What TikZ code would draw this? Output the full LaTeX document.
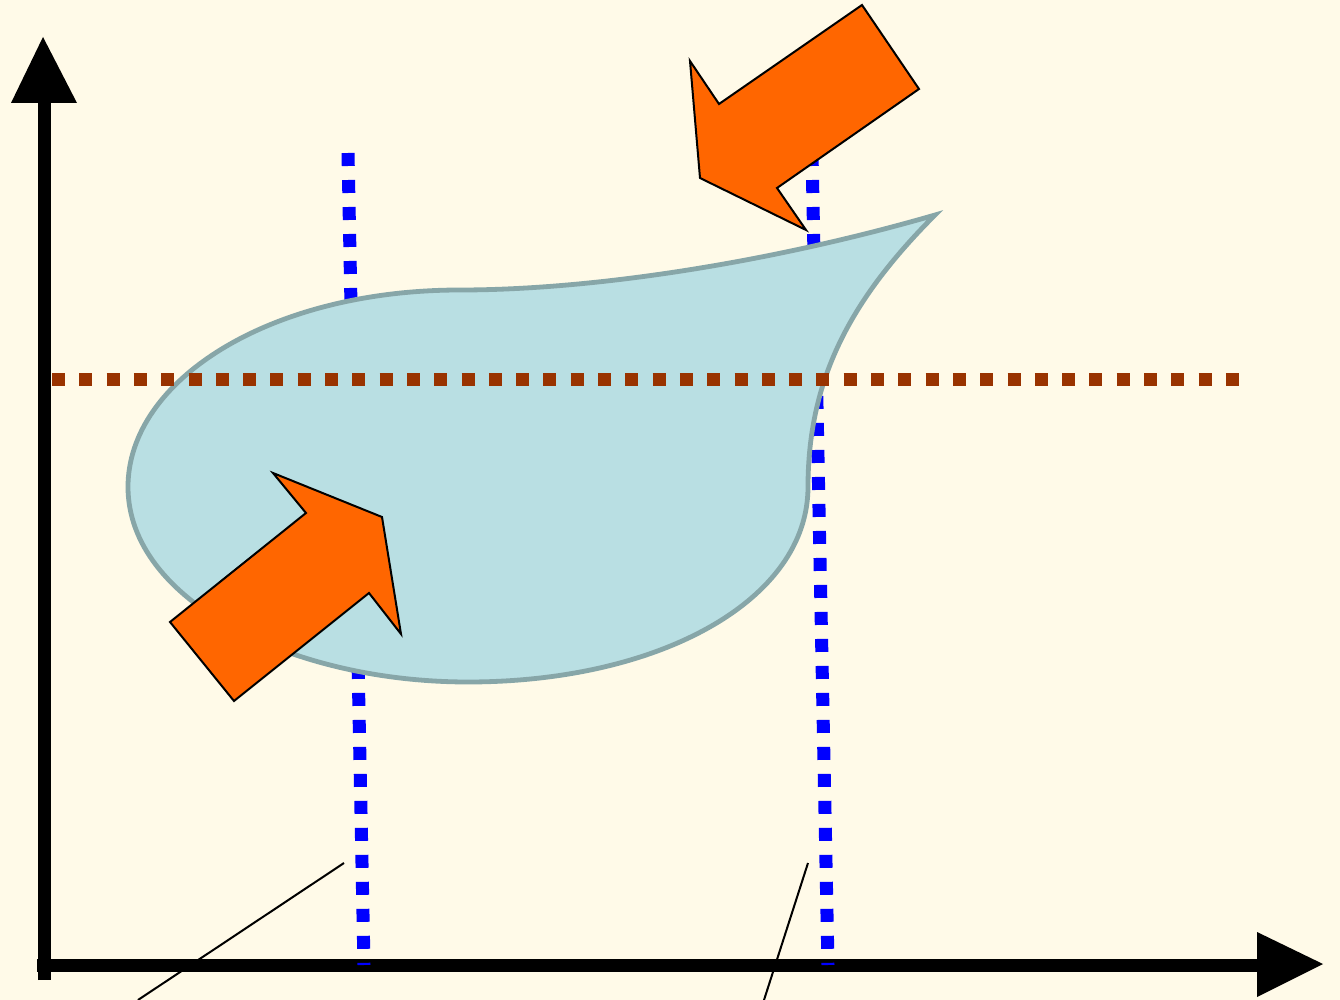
\documentclass[tikz,border=0pt]{standalone}
\begin{document}
\begin{tikzpicture}[x=0.5pt,y=-0.5pt,
  axis/.style={line width=6.5pt,black},
  tipfill/.style={fill=black},
  bluedot/.style={draw=blue,line width=6.5pt,line cap=butt,dash pattern=on 6.5pt off 7pt},
  browndot/.style={draw=brown1,line width=6.5pt,line cap=butt,dash pattern=on 6.5pt off 7.15pt},
  blob/.style={fill=blobfill,draw=blobline,line width=2.4pt},
  bigarrow/.style={fill=orange1,draw=black,line width=1pt,line join=miter},
  leader/.style={draw=black,line width=1pt}]
\definecolor{bg}{HTML}{FFFAE8}
\definecolor{blobfill}{HTML}{B9DFE3}
\definecolor{blobline}{HTML}{87A6A8}
\definecolor{brown1}{HTML}{993300}
\definecolor{orange1}{HTML}{FF6600}
\fill[bg] (0,0) rectangle (1340,1000);
\useasboundingbox (0,0) rectangle (1340,1000);
% axes
\draw[axis] (44,980) -- (44,100);
\fill[tipfill] (11,103) -- (43,37) -- (77,103) -- cycle;
\draw[axis] (37,965) -- (1260,965);
\fill[tipfill] (1257,932) -- (1323,964) -- (1257,997) -- cycle;
% blue dotted verticals
\coordinate (b1t) at (348,153);
\coordinate (b1b) at (364,965);
\coordinate (b2t) at (812,153);
\coordinate (b2b) at (828,965);
\draw[bluedot] (b1t) -- (b1b);
\draw[bluedot] (b2t) -- (b2b);
% blob
\draw[blob] (935,215) .. controls (780,260) and (600,290) .. (460,290)
  .. controls (270,290) and (128,380) .. (128,487)
  .. controls (128,600) and (290,682) .. (468,682)
  .. controls (660,682) and (808,600) .. (808,487)
  .. controls (808,380) and (850,300) .. (935,215) -- cycle;
% brown dotted horizontal
\coordinate (hl) at (52,380);
\coordinate (hr) at (1241,380);
\draw[browndot] (hl) -- (hr);
% leader lines
\coordinate (l1a) at (344,863);
\coordinate (l1b) at (138,1000);
\coordinate (l2a) at (808,863);
\coordinate (l2b) at (764,1000);
\draw[leader] (l1a) -- (l1b);
\draw[leader] (l2a) -- (l2b);
% orange arrows
\draw[bigarrow] (862,5) -- (919,89) -- (777,188) -- (806,230) -- (700,178) -- (690,61) -- (719,104) -- cycle;
\draw[bigarrow] (170,622) -- (306,513) -- (273,473) -- (382,517) -- (401,634) -- (369,593) -- (234,701) -- cycle;
\end{tikzpicture}
\end{document}
